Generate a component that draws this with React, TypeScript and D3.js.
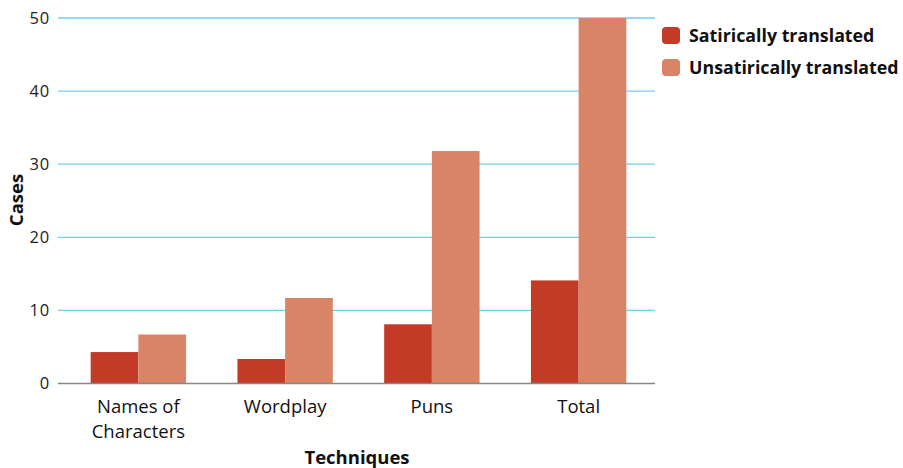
import React from "react";
import * as d3 from "d3";

const categories = ["Names of Characters", "Wordplay", "Puns", "Total"];
const categoryLines = [["Names of", "Characters"], ["Wordplay"], ["Puns"], ["Total"]];
const seriesNames = ["Satirically translated", "Unsatirically translated"];
const satirical = [4.3, 3.35, 8.1, 14.1];
const unsatirical = [6.7, 11.7, 31.8, 50];
const yTicks = [0, 10, 20, 30, 40, 50];
const colors = ["#C33A27", "#D98467"];

export default function App() {
  const W = 903, H = 468;
  const left = 58, gridRight = 655, top = 18, bottom = 383.5;
  const x = d3.scaleBand<string>().domain(categories).range([65, 652]).paddingInner(0.35).paddingOuter(0.175);
  const x1 = d3.scaleBand<number>().domain([0, 1]).range([0, x.bandwidth()]);
  const y = d3.scaleLinear().domain([0, 50]).range([bottom, top]);
  const font = "'Open Sans', 'Noto Sans', sans-serif";
  const series = [satirical, unsatirical];
  return (
    <svg width={W} height={H} style={{ position: "absolute", left: 0, top: 0 }} fontFamily={font}>
      {yTicks.map((t) => (
        <g key={t}>
          {t > 0 && <line x1={left} x2={gridRight} y1={y(t)} y2={y(t)} stroke="#74CDEE" strokeWidth={1.3} />}
          <text x={50} y={y(t)} dy="0.35em" textAnchor="end" fontSize={16.5} letterSpacing={0.8} fill="#222">{t}</text>
        </g>
      ))}
      {categories.map((c, i) => (
        <g key={c}>
          {series.map((s, j) => (
            <rect key={j} x={(x(c) as number) + (x1(j) as number)} width={x1.bandwidth()} y={y(s[i])} height={bottom - y(s[i])} fill={colors[j]} />
          ))}
          {categoryLines[i].map((ln, k) => (
            <text key={k} x={(x(c) as number) + x.bandwidth() / 2} y={413 + k * 25} textAnchor="middle" fontSize={18.5} fill="#111">{ln}</text>
          ))}
        </g>
      ))}
      <line x1={left} x2={gridRight} y1={bottom} y2={bottom} stroke="#888" strokeWidth={1.5} />
      <text transform={`translate(23,200) rotate(-90)`} textAnchor="middle" fontSize={18.5} fontWeight="bold" fill="#111">Cases</text>
      <text x={357} y={464} textAnchor="middle" fontSize={18.5} fontWeight="bold" fill="#111">Techniques</text>
      {seriesNames.map((n, i) => (
        <g key={n} transform={`translate(662,${27 + i * 32})`}>
          <rect width={18} height={17} rx={4} fill={colors[i]} />
          <text x={27} y={14.5} fontSize={17.8} fontWeight="bold" fill="#111">{n}</text>
        </g>
      ))}
    </svg>
  );
}
